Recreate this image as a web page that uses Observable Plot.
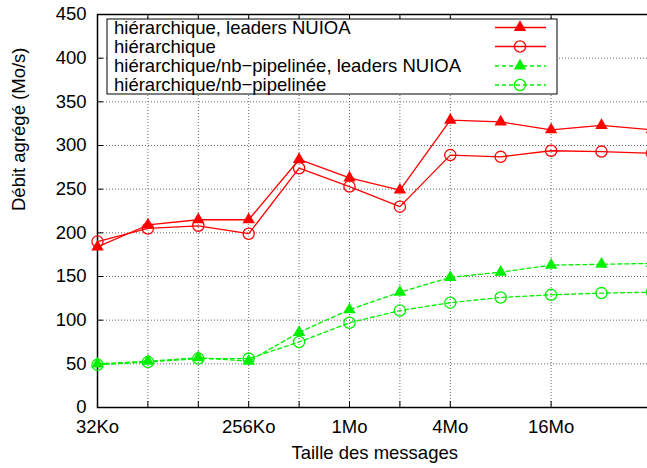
<!DOCTYPE html>
<html><head><meta charset="utf-8">
<script src="https://cdn.jsdelivr.net/npm/d3@7"></script>
<script src="https://cdn.jsdelivr.net/npm/@observablehq/plot@0.6"></script>
<style>
html,body{margin:0;padding:0;background:#fff;overflow:hidden}
</style></head><body><div id="chart"></div>
<script>
// message sizes in Ko (log2 axis)
const sizesKo = [32, 64, 128, 256, 512, 1024, 2048, 4096, 8192, 16384, 32768, 65536];
const hierNuioa = [184, 209, 215, 215, 284, 263, 249, 329, 327, 318, 323, 318];
const hier = [190, 205, 208, 199, 274, 253, 230, 289, 287, 294, 293, 291];
const pipeNuioa = [50, 53, 57, 53, 86, 112, 132, 149, 155, 163, 164, 165];
const pipe = [49, 52, 56, 56, 75, 97, 111, 120, 126, 129, 131, 132];
const seriesNames = ["hiérarchique, leaders NUIOA", "hiérarchique", "hiérarchique/nb−pipelinée, leaders NUIOA", "hiérarchique/nb−pipelinée"];
const xTickValues = [32, 256, 1024, 4096, 16384];
const xTickLabels = ["32Ko", "256Ko", "1Mo", "4Mo", "16Mo"];
const xGridValues = [64, 128, 256, 512, 1024, 2048, 4096, 16384];
const yTicks = [0, 50, 100, 150, 200, 250, 300, 350, 400, 450];
const xLabel = "Taille des messages";
const yLabel = "Débit agrégé (Mo/s)";

const seriesValues = [hierNuioa, hier, pipeNuioa, pipe];
const seriesStyle = [
  {color: "#ff0000", symbol: "triangle", dash: null},
  {color: "#ff0000", symbol: "circle", dash: null},
  {color: "#00f000", symbol: "triangle", dash: "4,3"},
  {color: "#00f000", symbol: "circle", dash: "4,3"}
];
const table = seriesNames.map((name, i) => sizesKo.map((x, j) => ({series: name, idx: i, x, y: seriesValues[i][j]})));

const W = 647, H = 468, ML = 97, MR = -4.4, MT = 14, MB = 61;
const plotW = W - ML - MR, plotH = H - MT - MB;
const tick = 6;
const FS = 18.5;
const FONT = "'Liberation Sans', Arial, sans-serif";

const marks = [
  Plot.ruleY(yTicks.slice(1, -1), {y: d => d, stroke: "#666", strokeWidth: 1, strokeDasharray: "1,2"}),
  Plot.ruleX(xGridValues, {x: d => d, stroke: "#666", strokeWidth: 1, strokeDasharray: "1,2"}),
  // inward ticks
  Plot.ruleX(xGridValues.concat([65536]), {x: d => d, y1: 450, y2: 0, insetTop: plotH - tick, stroke: "#000"}),
  Plot.ruleX(xGridValues.concat([65536]), {x: d => d, y1: 450, y2: 0, insetBottom: plotH - tick, stroke: "#000"}),
  Plot.ruleY(yTicks, {y: d => d, x1: 32, x2: 65536, insetRight: plotW - tick, stroke: "#000"}),
  Plot.frame({stroke: "#000", strokeWidth: 1.5}),
];
table.forEach((data, i) => {
  const s = seriesStyle[i];
  marks.push(Plot.line(data, {x: "x", y: "y", stroke: s.color, strokeWidth: 1.3, strokeDasharray: s.dash}));
  if (s.symbol === "triangle") {
    marks.push(Plot.dot(data, {x: "x", y: "y", symbol: "triangle", fill: s.color, stroke: "none", r: 4.6}));
  } else {
    marks.push(Plot.dot(data, {x: "x", y: "y", symbol: "circle", fill: "none", stroke: s.color, strokeWidth: 1.3, r: 5.6}));
  }
});
marks.push(
  Plot.axisY({ticks: yTicks, tickSize: 0, tickPadding: 11, label: null, fontSize: FS}),
  Plot.axisX({ticks: xTickValues, tickFormat: d => xTickLabels[xTickValues.indexOf(d)], tickSize: 0, tickPadding: 12, label: null, fontSize: FS}),
  Plot.text([xLabel], {frameAnchor: "bottom", lineAnchor: "middle", dy: 46, text: d => d, fontSize: FS}),
  Plot.text([yLabel], {frameAnchor: "left", lineAnchor: "middle", rotate: -90, dx: -78, text: d => d, fontSize: FS})
);

const chart = Plot.plot({
  width: W, height: H,
  marginLeft: ML, marginRight: MR, marginTop: MT, marginBottom: MB,
  style: {fontFamily: FONT, fontSize: FS + "px", color: "#000", background: "#fff", overflow: "visible"},
  x: {type: "log", base: 2, domain: [32, 65536], axis: null},
  y: {domain: [0, 450], axis: null},
  marks
});
document.getElementById("chart").appendChild(chart);

// legend
const svg = d3.select(chart);
const lg = svg.append("g").attr("font-family", FONT).attr("font-size", FS).attr("text-anchor", "start");
lg.append("rect").attr("x", 107).attr("y", 19).attr("width", 450).attr("height", 75)
  .attr("fill", "#fff").attr("stroke", "#000").attr("stroke-width", 1);
const rowY = [27.5, 46.5, 66, 85];
seriesNames.forEach((name, i) => {
  const s = seriesStyle[i];
  const y = rowY[i];
  lg.append("text").attr("x", 114).attr("y", y).attr("dy", "0.35em").attr("fill", "#000").attr("text-anchor", "start").text(name);
  lg.append("line").attr("x1", 495).attr("x2", 546).attr("y1", y).attr("y2", y)
    .attr("stroke", s.color).attr("stroke-width", 1.3).attr("stroke-dasharray", s.dash);
  if (s.symbol === "triangle") {
    lg.append("path").attr("transform", `translate(520,${y})`)
      .attr("d", d3.symbol(d3.symbolTriangle, Math.PI * 4.6 * 4.6)()).attr("fill", s.color);
  } else {
    lg.append("circle").attr("cx", 520).attr("cy", y).attr("r", 5.6)
      .attr("fill", "none").attr("stroke", s.color).attr("stroke-width", 1.3);
  }
});
</script></body></html>
